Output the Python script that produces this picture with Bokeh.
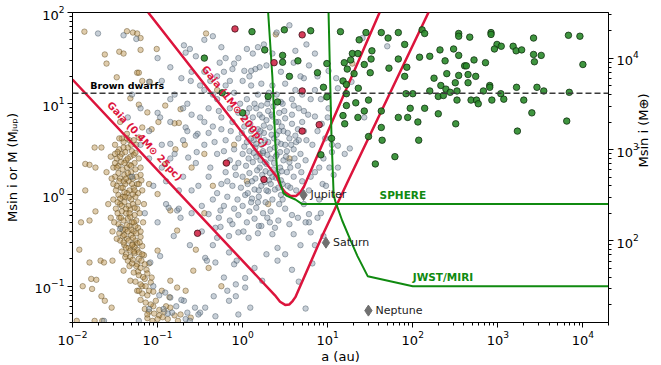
import math
import numpy as np
from bokeh.plotting import figure
from bokeh.models import Range1d, LogAxis, LogScale, FixedTicker, Span, Label, LogTickFormatter
from bokeh.embed import file_html
from bokeh.resources import INLINE

FONT = "DejaVu Sans"

# ---------------- data (log10 a [au], log10 M [M_Jup]) ----------------
X_MIN, X_MAX = 0.01, 2.0e4
Y_MIN, Y_MAX = 0.04, 100.0
MJUP_IN_MEARTH = 317.8
BD_LIMIT = 13.0

# direct imaging detections (green)
imaging = [
    (0.11,1.79),(-0.45,1.50),(0.49,1.81),(0.80,1.80),(0.26,1.59),(0.47,1.53),(0.47,1.455),(0.65,1.47),
    (0.88,1.34),(0.55,1.30),(0.95,1.18),(-0.24,1.12),(0.30,1.08),(0.41,1.02),(0.00,0.90),(0.92,0.44),
    (1.15,1.79),(1.45,1.78),(1.63,1.78),(1.83,1.78),(2.11,1.81),(2.14,1.77),(1.37,1.70),(1.71,1.72),
    (1.905,1.65),(2.54,1.77),(2.54,1.74),(2.67,1.73),(1.52,1.58),(1.29,1.55),(1.355,1.55),(2.32,1.59),
    (2.48,1.60),(0.99,1.44),(1.195,1.45),(1.27,1.48),(1.51,1.49),(1.83,1.49),(2.08,1.51),(2.20,1.52),
    (2.38,1.47),(2.54,1.53),(2.61,1.415),(2.63,1.415),(1.23,1.38),(1.43,1.43),(1.72,1.39),(1.93,1.40),
    (1.31,1.33),(1.50,1.34),(2.40,1.33),(2.54,1.31),(2.65,1.32),(1.18,1.25),(1.905,1.30),(2.25,1.28),
    (1.22,1.21),(1.36,1.17),(2.33,1.20),(2.50,1.23),(2.39,1.16),(2.65,1.23),(1.22,1.11),(1.92,1.11),
    (2.00,1.11),(2.20,1.14),(2.30,1.08),(2.36,1.09),(2.44,1.125),(2.52,1.14),(2.52,1.04),(0.99,1.075),
    (1.48,1.04),(1.33,1.01),(1.22,0.98),(1.97,0.95),(2.14,0.95),(1.43,0.92),(1.18,0.87),(1.355,0.85),
    (1.63,0.92),(1.83,0.85),(1.94,0.85),(2.06,0.80),(2.30,0.89),(2.505,0.78),(1.20,0.78),(1.63,0.74),
    (1.48,0.64),(1.64,0.60),(2.07,0.60),(1.045,0.62),(1.79,0.42),(1.56,0.34),
    (2.92,1.78),(2.92,1.76),(2.99,1.65),(3.04,1.63),(2.96,1.60),(3.18,1.63),(3.215,1.58),(3.28,1.59),
    (3.42,1.72),(3.42,1.54),(3.51,1.53),(3.43,1.46),(3.83,1.75),(3.965,1.74),(4.00,1.43),(2.72,1.48),
    (2.855,1.45),(2.74,1.30),(2.905,1.20),(2.905,1.18),(2.83,1.14),(3.22,1.18),(3.46,1.18),(3.54,1.14),
    (3.035,1.11),(3.84,1.125),(2.685,1.04),(2.75,1.04),(2.77,1.00),(2.93,1.04),(3.07,1.05),(3.305,1.04),
    (3.40,0.90),(3.81,0.81),(3.23,0.70),
]

# astrometry detections (red)
astrometry = [
    (-0.09,1.82),(0.70,1.755),(0.37,1.45),(0.70,1.14),(0.90,0.77),(0.70,0.70),(-0.19,0.35),(0.25,0.17),(-0.53,-0.42),
]

# radial velocity detections (grey)
radial_velocity = [
    (-1.70,1.77),(-1.40,1.75),(-1.25,1.71),(-1.10,1.24),(-0.97,0.85),(-0.69,1.64),(-0.67,1.56),(-0.61,1.25),
    (-0.67,0.74),(-0.53,0.67),(-0.85,0.56),(-0.64,0.41),(-0.54,0.47),
    (-0.62,1.60),(-0.45,1.70),(-0.35,1.74),(-0.25,1.62),(-0.55,1.52),(-0.20,1.50),(-0.10,1.44),(0.05,1.60),
    (0.12,1.55),(0.25,1.65),(0.40,1.78),(0.55,1.86),(0.35,1.55),(0.20,1.40),(0.15,1.38),(0.10,1.36),
    (0.02,1.36),(-0.12,1.38),(-0.22,1.35),(-0.30,1.30),(0.00,1.25),(0.10,1.20),(0.22,1.22),(0.35,1.20),
    (0.50,1.22),(0.72,1.28),(0.78,1.42),(0.62,1.15),(0.80,1.05),(0.72,0.92),(0.85,0.86),(0.60,0.98),
    (0.45,1.02),(0.30,1.05),(0.18,1.10),(0.05,1.05),(-0.10,1.12),(-0.35,1.10),(-0.50,1.20),(-0.72,1.28),
    (-0.85,1.05),(-0.95,1.25),(-0.40,0.95),(-0.60,0.88),
    (1.01,1.36),(1.10,1.28),(1.28,1.24),(1.12,1.17),(1.01,0.95),(1.41,1.72),(1.70,1.63),(1.43,0.85),
    (1.26,0.51),(1.12,0.54),(1.05,0.47),(1.07,0.22),(0.94,0.12),(0.78,-0.21),
    (0.05,0.90),(0.12,0.85),(0.20,0.88),(0.28,0.82),(0.35,0.86),(0.42,0.80),(0.50,0.84),(0.58,0.78),
    (0.65,0.72),(0.70,0.80),(0.02,0.75),(0.10,0.70),(0.18,0.72),(0.25,0.68),(0.32,0.74),(0.40,0.66),
    (0.48,0.70),(0.55,0.62),(0.62,0.65),(0.75,0.60),(-0.05,0.62),(0.05,0.58),(0.13,0.60),(0.22,0.55),
    (0.30,0.58),(0.38,0.52),(0.45,0.56),(0.52,0.48),(0.60,0.50),(0.68,0.45),(-0.10,0.50),(0.00,0.45),
    (0.08,0.48),(0.16,0.42),(0.24,0.46),(0.33,0.40),(0.40,0.44),(0.48,0.38),(0.55,0.36),(0.65,0.32),
    (-0.15,0.38),(-0.05,0.35),(0.04,0.32),(0.12,0.36),(0.20,0.30),(0.28,0.34),(0.36,0.28),(0.44,0.30),
    (0.52,0.25),(0.60,0.20),(-0.20,0.25),(-0.08,0.22),(0.00,0.20),(0.08,0.24),(0.15,0.18),(0.23,0.22),
    (0.31,0.16),(0.39,0.19),(0.47,0.12),(0.56,0.08),(-0.25,0.12),(-0.12,0.10),(-0.02,0.08),(0.06,0.12),
    (0.14,0.06),(0.22,0.10),(0.30,0.04),(0.38,0.06),(0.45,0.00),(-0.30,0.02),(-0.18,-0.02),(-0.06,-0.05),
    (0.03,0.00),(0.11,-0.04),(0.19,-0.02),(0.27,-0.08),(0.35,-0.05),(0.43,-0.10),(-0.22,-0.12),(-0.10,-0.15),
    (0.00,-0.12),(0.08,-0.18),(0.16,-0.14),(0.24,-0.20),(0.33,-0.18),(0.50,-0.15),(-0.28,-0.25),(-0.15,-0.28),
    (-0.05,-0.22),(0.05,-0.30),(0.14,-0.26),(0.22,-0.34),(0.32,-0.30),(0.42,-0.28),(0.55,-0.32),
    (0.70,0.15),(0.78,0.05),(0.85,0.25),(0.72,-0.10),(0.90,-0.05),(0.95,0.40),(0.82,0.55),(0.88,0.70),
    (0.66,0.95),(0.58,1.05),
    (0.15,0.52),(0.19,0.64),(0.26,0.60),(0.29,0.44),(0.34,0.66),(0.37,0.35),(0.41,0.58),(0.44,0.47),
    (0.21,0.38),(0.17,0.27),(0.27,0.26),(0.33,0.12),(0.41,0.23),(0.11,0.15),(0.07,0.40),(0.02,0.53),
    (0.25,0.76),(0.30,0.92),(0.36,0.97),(0.43,0.90),(0.47,1.00),(0.40,1.10),(0.31,1.12),(0.22,0.98),
    (0.14,1.00),(0.08,0.95),(0.19,0.05),(0.26,0.14),(0.35,0.20),(0.45,0.16),(0.51,0.42),(0.57,0.55),
    (0.63,0.58),(0.53,0.68),(0.46,0.75),(0.39,0.80),(0.32,0.50),(0.24,0.48),(0.16,0.56),(0.10,0.62),
    (-0.80,1.10),(-0.65,1.00),(-0.45,1.15),(-0.30,1.05),(-0.20,1.20),(-0.70,0.60),(-0.55,0.65),(-0.40,0.68),
    (-0.25,0.72),(-0.12,0.80),(-0.05,0.90),(-0.60,1.35),(-0.45,1.35),(-0.85,0.40),(-0.95,0.55),(-1.00,0.90),
    (-1.10,0.70),(-1.20,0.95),(-1.30,1.10),(-1.35,0.85),
    (0.65,-0.25),(0.78,-0.30),(0.92,-0.20),(0.85,-0.55),(0.98,0.10),(0.95,-0.45),(0.68,-0.55),(1.05,0.55),
    (1.12,0.30),(1.20,0.45),(1.00,0.85),(0.92,1.05),(0.88,1.30),(0.68,1.30),(0.62,1.58),(0.75,1.65),(0.85,1.55),
    (-0.48,-0.12),(-0.40,-0.21),(-0.26,-0.17),(-0.32,-0.36),(-0.16,-0.45),(-0.05,-0.41),(0.07,-0.47),(0.19,-0.34),
    (0.35,-0.43),(0.41,-0.58),(0.60,-0.43),(0.80,-0.41),(0.74,-0.30),(0.58,-0.82),(0.41,-0.72),(0.28,-0.65),
    (0.14,-0.80),(-0.07,-0.72),(-0.16,-0.63),(-0.32,-0.74),(-0.44,-0.69),(-0.22,-0.905),(-0.08,-0.98),(0.03,-0.91),
    (0.23,-0.94),(0.03,-1.015),(0.09,-1.235),(-0.05,-1.31),(-0.16,-1.16),(-0.34,-1.11),(-0.44,-1.235),(-0.50,-1.29),
    (0.74,-1.245),(-0.32,-1.33),(-0.18,-1.05),(-0.08,-1.11),
    (-1.085,-0.74),(-0.97,-0.67),(-0.87,-0.14),(-0.73,-0.25),(-0.81,-0.45),(-0.91,-1.07),(-0.85,-1.125),(-0.93,-1.25),
    (-0.83,-1.29),(-0.69,-1.16),(-0.65,-1.29),(-0.56,-1.235),(-0.52,-1.31),(-0.67,-1.36),(-1.44,-0.37),(-1.22,-1.38),
    (-1.63,-1.38),(-1.05,-1.00),(-0.98,-1.10),(-0.88,-1.30),(-0.78,-1.22),(-0.72,-1.15),(-0.62,-1.38),(-1.10,-1.25),
    (-0.77,-0.17),(-0.42,-0.72),(-0.30,-0.47),(-0.10,-0.76),
    (-1.20,0.55),(-1.10,0.40),(-0.95,0.30),(-1.05,0.10),(-0.90,-0.10),(-1.00,-0.30),(-1.15,-0.20),(-1.30,0.20),
    (-0.80,0.45),(-0.70,0.20),(-0.60,0.05),(-0.75,-0.15),(-0.55,0.35),(-0.45,0.55),(-0.35,0.75),(-0.50,0.85),
    (-0.65,0.70),(-0.85,0.80),(-0.30,0.45),(-0.40,0.20),(-0.20,0.60),(-0.25,0.85),(-0.15,0.95),
    (-0.38,0.30),(-0.33,0.58),(-0.28,0.92),(-0.22,0.48),(-0.18,0.15),(-0.14,0.70),(-0.09,0.30),(-0.03,1.00),
    (-0.01,0.68),(0.03,0.85),(0.06,0.02),(0.09,0.78),(0.13,0.46),(0.16,0.95),(0.18,-0.08),(0.21,0.70),
    (0.23,0.85),(0.26,0.36),(0.28,0.05),(0.29,1.00),(0.32,0.24),(0.34,0.88),(0.37,0.62),(0.39,0.42),
    (0.42,0.08),(0.43,0.70),(0.46,0.26),(0.49,0.92),(0.50,0.55),(0.53,0.10),(0.56,0.30),(0.58,0.88),
    (0.61,0.40),(0.63,0.05),(0.66,0.60),(0.69,0.25),(0.72,0.70),(0.74,0.38),(0.77,0.88),(0.80,0.20),
    (-0.35,-0.05),(-0.26,-0.35),(-0.12,-0.32),(0.01,-0.40),(0.10,-0.08),(0.18,-0.42),(0.29,-0.25),(0.38,-0.36),
    (0.47,-0.05),(0.58,-0.22),(-0.45,0.80),(-0.38,1.25),(-0.27,1.45),(-0.15,1.25),(-0.05,1.50),(0.08,1.30),
    (0.18,1.62),(0.28,1.42),(0.45,1.35),(0.60,1.45),(0.70,1.10),(0.85,1.15),(0.93,0.78),(0.97,0.62),
    (0.90,0.30),(1.02,0.30),(0.88,-0.25),(0.82,-0.75),(0.66,-0.95),(0.50,-0.65),(-0.60,-0.20),(-0.52,0.10),
    (-0.48,-0.40),(-0.35,-0.55),(-0.62,-0.55),(-0.75,0.05),(-0.90,0.15),(-0.70,0.95),(-0.85,1.40),(-1.00,1.50),
]

# transit detections (orange)
transit = [
    (-1.86,1.79),(-1.36,1.795),(-1.29,1.78),(-1.24,1.77),(-1.20,1.72),(-1.20,1.59),(-1.45,1.57),(-1.40,1.55),
    (-1.62,1.54),(-1.60,1.44),(-1.01,1.60),(-1.24,1.34),(-1.22,1.34),(-1.48,1.29),(-1.18,1.25),(-1.09,1.24),
    (-1.32,1.06),(-1.22,0.99),(-0.91,0.98),(-1.12,0.905),(-0.73,0.94),(-0.99,0.80),(-0.80,0.785),(-0.75,0.79),
    (-1.18,0.74),(-1.22,0.63),(-1.07,0.72),(-1.44,0.80),(-1.36,0.67),(-1.74,0.52),(-1.66,0.52),(-1.85,0.34),
    (-1.80,0.33),(-1.73,0.30),(-0.91,0.34),(-0.79,0.50),(-0.43,1.77),(0.39,1.76),(1.29,1.44),(-0.30,1.15),(0.55,0.40),
    (-1.50,0.55),(-1.45,0.50),(-1.40,0.58),(-1.35,0.52),(-1.30,0.48),(-1.25,0.55),(-1.55,0.42),(-1.48,0.40),
    (-1.42,0.45),(-1.37,0.38),(-1.32,0.42),(-1.27,0.35),(-1.22,0.40),(-1.52,0.30),(-1.46,0.32),(-1.41,0.28),
    (-1.36,0.30),(-1.31,0.25),(-1.26,0.28),(-1.20,0.22),(-1.50,0.20),(-1.44,0.18),(-1.39,0.22),(-1.34,0.15),
    (-1.29,0.18),(-1.24,0.12),(-1.48,0.10),(-1.43,0.08),(-1.38,0.12),(-1.33,0.05),(-1.28,0.08),(-1.23,0.02),
    (-1.46,0.00),(-1.41,-0.02),(-1.36,0.02),(-1.31,-0.05),(-1.26,-0.02),(-1.52,-0.05),(-1.44,-0.10),(-1.39,-0.08),
    (-1.34,-0.12),(-1.29,-0.10),(-1.24,-0.15),(-1.49,-0.15),(-1.42,-0.18),(-1.37,-0.20),(-1.32,-0.16),(-1.27,-0.22),
    (-1.21,-0.20),(-1.45,-0.25),(-1.40,-0.28),(-1.35,-0.26),(-1.30,-0.30),(-1.25,-0.28),(-1.43,-0.35),(-1.38,-0.38),
    (-1.33,-0.34),(-1.28,-0.40),(-1.23,-0.36),(-1.41,-0.45),(-1.36,-0.48),(-1.31,-0.44),(-1.26,-0.50),(-1.20,-0.46),
    (-1.39,-0.55),(-1.34,-0.58),(-1.29,-0.54),(-1.24,-0.60),(-1.18,-0.56),(-1.37,-0.65),(-1.32,-0.68),(-1.27,-0.64),
    (-1.22,-0.70),(-1.16,-0.66),
    (-1.47,0.47),(-1.43,0.36),(-1.38,0.47),(-1.33,0.33),(-1.28,0.44),(-1.46,0.24),(-1.40,0.15),(-1.35,0.24),
    (-1.30,0.12),(-1.25,0.20),(-1.49,0.05),(-1.44,-0.04),(-1.39,0.03),(-1.34,-0.03),(-1.29,0.01),(-1.47,-0.20),
    (-1.42,-0.12),(-1.37,-0.15),(-1.32,-0.24),(-1.27,-0.14),(-1.46,-0.32),(-1.41,-0.38),(-1.36,-0.33),(-1.31,-0.38),
    (-1.26,-0.34),(-1.44,-0.50),(-1.39,-0.44),(-1.34,-0.50),(-1.29,-0.47),(-1.24,-0.53),(-1.42,-0.62),(-1.37,-0.58),
    (-1.32,-0.61),(-1.27,-0.57),(-1.22,-0.63),(-1.35,-0.72),(-1.29,-0.71),(-1.24,-0.76),(-1.19,-0.72),(-1.13,-0.82),
    (-1.33,0.60),(-1.42,0.62),(-1.28,0.60),(-1.52,0.12),(-1.55,-0.25),(-1.53,-0.40),(-1.50,0.35),(-1.20,0.30),
    (-1.18,0.05),(-1.17,-0.30),
    (-1.48,0.30),(-1.44,0.42),(-1.39,0.35),(-1.35,0.40),(-1.31,0.32),(-1.26,0.46),(-1.45,0.15),(-1.41,0.08),
    (-1.37,0.18),(-1.32,0.20),(-1.27,0.05),(-1.22,0.12),(-1.47,-0.08),(-1.43,-0.25),(-1.38,-0.02),(-1.33,-0.20),
    (-1.28,-0.30),(-1.23,-0.08),(-1.45,-0.42),(-1.40,-0.52),(-1.35,-0.40),(-1.30,-0.55),(-1.25,-0.42),(-1.21,-0.52),
    (-1.38,-0.68),(-1.33,-0.78),(-1.28,-0.62),(-1.23,-0.84),(-1.18,-0.65),(-1.15,-0.92),(-1.40,0.52),(-1.36,0.62),
    (-1.31,0.55),(-1.45,0.62),(-1.50,0.45),(-1.54,0.18),(-1.51,-0.30),(-1.48,-0.48),(-1.19,0.16),(-1.16,-0.10),
    (-1.20,-0.40),(-1.10,-0.75),(-1.18,-1.00),(-1.10,-1.05),(-1.05,-1.22),(-0.98,-1.32),(-0.92,-1.28),(-0.88,-1.36),
    (-0.80,-1.32),(-0.76,-1.38),
    (-1.30,-0.75),(-1.25,-0.78),(-1.20,-0.80),(-1.15,-0.76),(-1.28,-0.85),(-1.22,-0.88),(-1.17,-0.90),(-1.12,-0.86),
    (-1.26,-0.95),(-1.20,-0.98),(-1.14,-1.00),(-1.08,-0.96),(-1.24,-1.05),(-1.18,-1.08),(-1.12,-1.10),(-1.05,-1.06),
    (-1.20,-1.15),(-1.14,-1.18),(-1.08,-1.20),(-1.02,-1.16),(-1.15,-1.25),(-1.10,-1.28),(-1.04,-1.30),(-0.98,-1.26),
    (-1.12,-1.35),(-1.06,-1.38),(-1.00,-1.36),(-0.94,-1.34),(-0.90,-1.22),(-0.86,-1.12),(-0.95,-1.05),
    (-1.80,-0.74),(-1.72,-0.93),(-1.67,-0.72),(-1.80,-0.28),(-1.78,-0.92),(-1.77,-1.03),(-1.73,-0.18),(-1.74,-1.38),
    (-1.63,-0.74),(-1.53,-0.72),(-1.66,-1.11),(-1.62,-1.16),(-1.54,-1.235),(-1.65,-1.38),(-1.90,-0.30),(-1.85,0.05),
    (-1.92,-0.60),(-1.88,-1.00),(-1.58,-0.10),(-1.60,0.25),(-1.95,-1.38),
    (-1.10,0.12),(-1.00,0.01),(-0.85,-0.17),(-0.77,-0.39),(-1.00,-0.61),(-1.07,-0.905),(-0.85,-0.94),(-0.77,-1.015),
    (-0.67,-1.05),(-0.58,-0.83),(-0.85,-1.235),(-0.73,-1.31),(-0.61,-1.345),(-1.12,-1.31),(-1.22,-1.05),(-1.32,-0.94),
    (-1.40,-0.83),(-0.60,0.30),(-0.45,-0.20),(-0.35,0.10),(-0.20,0.35),(-0.10,0.55),(0.05,0.15),(0.20,0.45),
    (0.30,-0.10),(-0.45,0.45),(-0.68,0.55),(-0.25,-1.00),(-0.40,-0.80),(-0.55,-0.60),
]

# detection limits (log10 a, log10 M)
gaia_low_star = [(-2.0,1.265),(0.38,-1.10),(0.44,-1.17),(0.50,-1.205),(0.55,-1.20),(0.59,-1.16),(0.62,-1.12),(0.935,-0.45),(1.25,0.175),(2.20,2.03)]
gaia_sun_star = [(-1.11,2.0),(0.40,0.20),(0.45,0.09),(0.50,0.03),(0.56,-0.01),(0.63,-0.01),(0.68,0.03),(0.72,0.09),(1.61,2.0)]
sphere_limit = [(0.30,2.0),(0.35,1.29),(0.385,0.56),(0.405,0.27),(0.445,0.12),(0.48,0.02),(0.52,-0.01),(0.62,-0.05),(0.70,-0.10),(4.31,-0.10)]
jwst_limit = [(1.01,2.0),(1.045,0.63),(1.07,0.0),(1.09,-0.07),(1.17,-0.28),(1.27,-0.50),(1.35,-0.67),(1.47,-0.89),(2.0,-1.0),(4.31,-1.0)]

planet_names = ["Jupiter", "Saturn", "Neptune"]
planet_a = [5.2, 9.54, 30.1]
planet_m = [1.0, 0.30, 0.054]


def unlog(pairs):
    arr = np.array(pairs, dtype=float)
    return list(10 ** arr[:, 0]), list(10 ** arr[:, 1])


# ---------------- figure ----------------
FW, FH = 536, 310
p = figure(width=661, height=365, x_axis_type="log", y_axis_type="log",
           x_range=Range1d(X_MIN, X_MAX), y_range=Range1d(Y_MIN, Y_MAX),
           output_backend="svg", toolbar_location=None,
           min_border_left=72, min_border_right=53, min_border_top=12, min_border_bottom=43)
p.frame_width = FW
p.frame_height = FH
p.extra_y_ranges = {"earth": Range1d(Y_MIN * MJUP_IN_MEARTH, Y_MAX * MJUP_IN_MEARTH)}
p.extra_y_scales = {"earth": LogScale()}
p.grid.visible = False
p.outline_line_color = "black"
p.outline_line_width = 1
p.outline_line_alpha = 1
p.background_fill_color = "white"
p.border_fill_color = "white"


def minors(lo, hi):
    return [m * 10.0 ** e for e in range(lo, hi + 1) for m in range(2, 10)]


def style_axis(ax, label, standoff):
    ax.axis_line_color = "black"
    ax.major_tick_line_color = "black"
    ax.minor_tick_line_color = "black"
    ax.major_tick_out = 5
    ax.major_tick_in = 0
    ax.minor_tick_out = 3
    ax.minor_tick_in = 0
    ax.major_label_text_font = FONT
    ax.major_label_text_font_size = "13px"
    ax.major_label_text_color = "black"
    ax.major_label_standoff = 3
    ax.axis_label = label
    ax.axis_label_text_font = FONT
    ax.axis_label_text_font_size = "13px"
    ax.axis_label_text_font_style = "normal"
    ax.axis_label_text_color = "black"
    ax.axis_label_standoff = standoff


xa = p.xaxis[0]
xa.ticker = FixedTicker(ticks=[10.0 ** e for e in range(-2, 5)], minor_ticks=minors(-2, 4))
style_axis(xa, "a (au)", 1)
ya = p.yaxis[0]
ya.ticker = FixedTicker(ticks=[10.0 ** e for e in range(-1, 3)], minor_ticks=minors(-2, 2))
style_axis(ya, "Msin i or M (M\u2c7c\u1d64\u209a)", 12)
ra = LogAxis(y_range_name="earth",
             ticker=FixedTicker(ticks=[1e2, 1e3, 1e4], minor_ticks=minors(1, 4)),
             formatter=LogTickFormatter())
style_axis(ra, "Msin i (M\u2295)", 2)
if "axis_label_orientation" in ra.properties():
    ra.axis_label_orientation = math.pi / 2
p.add_layout(ra, "right")

# ---------------- scatter ----------------
tx, ty = unlog(transit)
p.scatter(tx, ty, size=5.5, fill_color="#b88f48", fill_alpha=0.45,
          line_color="#523c10", line_alpha=0.6, line_width=0.7)
rx, ry = unlog(radial_velocity)
p.scatter(rx, ry, size=5.5, fill_color="#8294a6", fill_alpha=0.45,
          line_color="#3a4a5a", line_alpha=0.6, line_width=0.7)

# ---------------- limits ----------------
for curve, col, w in [(gaia_low_star, "#dc143c", 2.5), (gaia_sun_star, "#dc143c", 2.5),
                      (sphere_limit, "#108a10", 2.0), (jwst_limit, "#108a10", 2.0)]:
    cx, cy = unlog(curve)
    p.line(cx, cy, line_color=col, line_width=w)

p.add_layout(Span(location=BD_LIMIT, dimension="width", line_color="#3a3a3a",
                  line_width=1.5, line_dash="6 3"))

gx, gy = unlog(imaging)
p.scatter(gx, gy, size=6.5, fill_color="#2a8a2a", fill_alpha=0.9, line_color="#103010", line_width=0.8)
ax_, ay_ = unlog(astrometry)
p.scatter(ax_, ay_, size=6.5, fill_color="#d02848", fill_alpha=0.9, line_color="#401018", line_width=0.8)

p.scatter(planet_a, planet_m, marker="diamond", size=11, fill_color="#707070", line_color="#707070")
for name, a, m in zip(planet_names, planet_a, planet_m):
    p.add_layout(Label(x=a, y=m, text=name, x_offset=7, text_baseline="middle",
                       text_font=FONT, text_font_size="11px", text_color="#222222"))

# ---------------- annotations ----------------
px_per_dec_x = FW / (math.log10(X_MAX) - math.log10(X_MIN))
px_per_dec_y = FH / (math.log10(Y_MAX) - math.log10(Y_MIN))


def seg_angle(curve, i):
    (x0, y0), (x1, y1) = curve[i], curve[i + 1]
    return math.atan2((y1 - y0) * px_per_dec_y, (x1 - x0) * px_per_dec_x)


def on_curve(curve, i, la):
    (x0, y0), (x1, y1) = curve[i], curve[i + 1]
    return y0 + (y1 - y0) * (la - x0) / (x1 - x0)


for curve, la, text in [(gaia_low_star, -1.66, "Gaia (0.4M\u2299 25pc)"),
                        (gaia_sun_star, -0.55, "Gaia (1M\u2299 200pc)")]:
    ang = seg_angle(curve, 0)
    off = 5
    p.add_layout(Label(x=10 ** la, y=10 ** on_curve(curve, 0, la), text=text, angle=ang,
                       x_offset=-off * math.sin(ang), y_offset=off * math.cos(ang),
                       text_font=FONT, text_font_size="10px", text_font_style="bold",
                       text_color="#dc143c", text_baseline="bottom"))

p.add_layout(Label(x=10 ** -1.79, y=BD_LIMIT, y_offset=2, text="Brown dwarfs", text_baseline="bottom",
                   text_font=FONT, text_font_size="9.5px", text_font_style="bold", text_color="black"))
p.add_layout(Label(x=10 ** 1.61, y=10 ** sphere_limit[-1][1], y_offset=3, text="SPHERE", text_baseline="bottom",
                   text_font=FONT, text_font_size="10.5px", text_font_style="bold", text_color="#108a10"))
p.add_layout(Label(x=10 ** 2.0, y=10 ** jwst_limit[-1][1], y_offset=3, text="JWST/MIRI", text_baseline="bottom",
                   text_font=FONT, text_font_size="10.5px", text_font_style="bold", text_color="#108a10"))

open("out.html", "w").write(file_html(p, INLINE))
